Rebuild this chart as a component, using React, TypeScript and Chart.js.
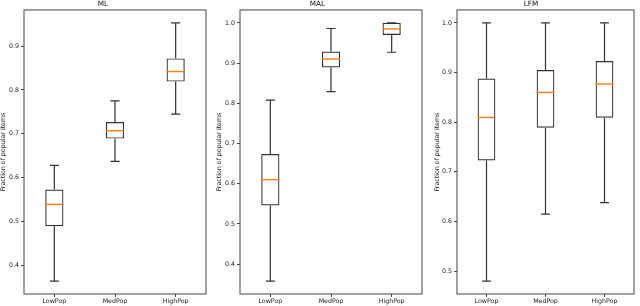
import React, { useEffect, useRef } from "react";
import { Chart, registerables } from "chart.js";

Chart.register(...registerables);

const categories = ["LowPop", "MedPop", "HighPop"];

// ML panel: [LowPop, MedPop, HighPop]
const mlLo = [0.364, 0.637, 0.745];
const mlQ1 = [0.489, 0.689, 0.819];
const mlMed = [0.539, 0.707, 0.842];
const mlQ3 = [0.573, 0.727, 0.872];
const mlHi = [0.628, 0.775, 0.953];

// MAL panel
const malLo = [0.358, 0.829, 0.927];
const malQ1 = [0.546, 0.889, 0.970];
const malMed = [0.610, 0.910, 0.985];
const malQ3 = [0.674, 0.929, 1.0];
const malHi = [0.808, 0.986, 1.0];

// LFM panel
const lfmLo = [0.48, 0.615, 0.638];
const lfmQ1 = [0.723, 0.789, 0.809];
const lfmMed = [0.8095, 0.86, 0.877];
const lfmQ3 = [0.888, 0.905, 0.923];
const lfmHi = [1.0, 1.0, 1.0];

const yTitle = "Fraction of popular items";
const FONT = "'DejaVu Sans', sans-serif";

type Panel = {
  title: string;
  left: number;
  width: number;
  axisW: number;
  titlePad: number;
  lo: number[];
  q1: number[];
  med: number[];
  q3: number[];
  hi: number[];
};

const panels: Panel[] = [
  { title: "ML", left: 0, width: 212, axisW: 24, titlePad: 0, lo: mlLo, q1: mlQ1, med: mlMed, q3: mlQ3, hi: mlHi },
  { title: "MAL", left: 213, width: 215, axisW: 27, titlePad: 2.2, lo: malLo, q1: malQ1, med: malMed, q3: malQ3, hi: malHi },
  { title: "LFM", left: 428, width: 212, axisW: 29, titlePad: 5.2, lo: lfmLo, q1: lfmQ1, med: lfmMed, q3: lfmQ3, hi: lfmHi },
];

const boxPlugin = {
  id: "boxWhiskers",
  afterDatasetsDraw(chart: any, _args: any, opts: any) {
    const { ctx, chartArea } = chart;
    const ys = chart.scales.y;
    const meta = chart.getDatasetMeta(0);
    ctx.save();
    meta.data.forEach((bar: any, i: number) => {
      const { x, width } = bar.getProps(["x", "width"], true);
      const capHalf = width / 4;
      const yLo = ys.getPixelForValue(opts.lo[i]);
      const yQ1 = ys.getPixelForValue(opts.q1[i]);
      const yQ3 = ys.getPixelForValue(opts.q3[i]);
      const yHi = ys.getPixelForValue(opts.hi[i]);
      const yMed = ys.getPixelForValue(opts.med[i]);
      ctx.strokeStyle = "#333";
      ctx.lineWidth = 1.2;
      ctx.beginPath();
      ctx.moveTo(x, yQ1);
      ctx.lineTo(x, yLo);
      ctx.moveTo(x, yQ3);
      ctx.lineTo(x, yHi);
      ctx.moveTo(x - capHalf, yLo);
      ctx.lineTo(x + capHalf, yLo);
      ctx.moveTo(x - capHalf, yHi);
      ctx.lineTo(x + capHalf, yHi);
      ctx.stroke();
      ctx.strokeStyle = "#ff7f0e";
      ctx.lineWidth = 1.4;
      ctx.beginPath();
      ctx.moveTo(x - width / 2, yMed);
      ctx.lineTo(x + width / 2, yMed);
      ctx.stroke();
    });
    ctx.strokeStyle = "#555";
    ctx.lineWidth = 1.1;
    ctx.strokeRect(chartArea.left, chartArea.top, chartArea.right - chartArea.left, chartArea.bottom - chartArea.top);
    ctx.restore();
  },
};

function BoxPanel({ p }: { p: Panel }) {
  const ref = useRef<HTMLCanvasElement | null>(null);
  useEffect(() => {
    if (!ref.current) return;
    const all = [...p.lo, ...p.hi];
    const dmin = Math.min(...all);
    const dmax = Math.max(...all);
    const margin = (dmax - dmin) * 0.05;
    const chart = new Chart(ref.current, {
      type: "bar",
      data: {
        labels: categories,
        datasets: [
          {
            data: categories.map((_, i) => [p.q1[i], p.q3[i]]) as any,
            backgroundColor: "rgba(0,0,0,0)",
            borderColor: "#333",
            borderWidth: 1.2,
            borderSkipped: false,
            barPercentage: 0.3,
            categoryPercentage: 1,
          },
        ],
      },
      options: {
        animation: false,
        responsive: false,
        events: [],
        layout: { padding: { left: 0, right: 6, top: 0, bottom: 0 } },
        plugins: {
          legend: { display: false },
          tooltip: { enabled: false },
          title: {
            display: true,
            text: p.title,
            color: "#111",
            font: { family: FONT, size: 7.3, weight: "normal" },
            padding: { top: 0, bottom: 1.2 },
          },
          boxWhiskers: { lo: p.lo, q1: p.q1, med: p.med, q3: p.q3, hi: p.hi },
        } as any,
        scales: {
          x: {
            type: "category",
            offset: true,
            grid: { display: true, drawOnChartArea: false, drawTicks: true, tickLength: 3, offset: false, color: "#444" },
            border: { display: false },
            ticks: { color: "#222", font: { family: FONT, size: 6.3 }, padding: 1, maxRotation: 0 },
            afterFit: (s: any) => {
              s.height = 12;
            },
          },
          y: {
            type: "linear",
            min: dmin - margin,
            max: dmax + margin,
            grid: { display: true, drawOnChartArea: false, drawTicks: true, tickLength: 3, color: "#444" },
            border: { display: false },
            ticks: {
              stepSize: 0.1,
              includeBounds: false,
              color: "#222",
              font: { family: FONT, size: 6.3 },
              padding: 2,
              callback: (v: any) => Number(v).toFixed(1),
            },
            title: {
              display: true,
              text: yTitle,
              color: "#222",
              font: { family: FONT, size: 6.3 },
              padding: { top: p.titlePad, bottom: 0 },
            },
            afterFit: (s: any) => {
              s.width = p.axisW;
            },
          },
        },
      },
      plugins: [boxPlugin],
    });
    return () => chart.destroy();
  }, [p]);
  return (
    <canvas
      ref={ref}
      width={p.width}
      height={306}
      style={{ position: "absolute", left: p.left, top: 0, width: p.width, height: 306 }}
    />
  );
}

export default function App() {
  return (
    <div style={{ position: "absolute", left: 0, top: 0, width: 640, height: 306, background: "#fff" }}>
      {panels.map((p) => (
        <BoxPanel key={p.title} p={p} />
      ))}
    </div>
  );
}
